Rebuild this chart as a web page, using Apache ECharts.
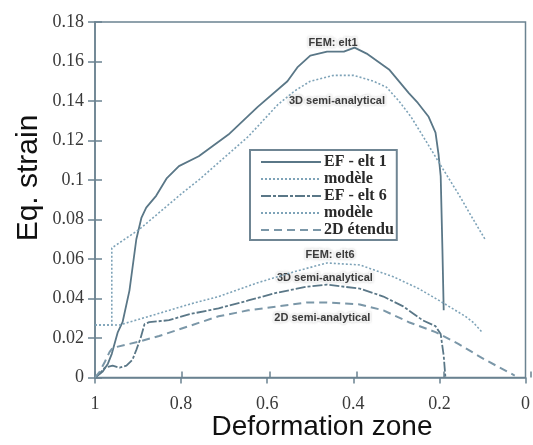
<!DOCTYPE html>
<html>
<head>
<meta charset="utf-8">
<script src="https://cdn.jsdelivr.net/npm/echarts@6/dist/echarts.min.js"></script>
<style>
html,body{margin:0;padding:0;background:#fff;}
#c{width:533px;height:445px;}
</style>
</head>
<body>
<div id="c"></div>
<script>
// ---- data (x = deformation zone, y = eq. strain) ----
const xTickLabels = ['0', '0.2', '0.4', '0.6', '0.8', '1'];
const yTickLabels = ['0', '0.02', '0.04', '0.06', '0.08', '0.1', '0.12', '0.14', '0.16', '0.18'];

const efElt1 = [
  [1.000, 0.000], [0.982, 0.003], [0.970, 0.007], [0.961, 0.012], [0.947, 0.023],
  [0.936, 0.028], [0.920, 0.044], [0.904, 0.070], [0.892, 0.081], [0.881, 0.086],
  [0.858, 0.092], [0.833, 0.101], [0.805, 0.107], [0.759, 0.112], [0.690, 0.123],
  [0.622, 0.137], [0.553, 0.150], [0.530, 0.157], [0.500, 0.163], [0.461, 0.165],
  [0.422, 0.165], [0.397, 0.167], [0.369, 0.164], [0.317, 0.156], [0.271, 0.144],
  [0.250, 0.139], [0.225, 0.132], [0.209, 0.124], [0.202, 0.113], [0.197, 0.102],
  [0.193, 0.065], [0.190, 0.034]
];
const modeleElt1 = [
  [1.000, 0.0266], [0.961, 0.0266], [0.961, 0.0656], [0.897, 0.075], [0.794, 0.094],
  [0.759, 0.100], [0.644, 0.122], [0.576, 0.138], [0.537, 0.145], [0.500, 0.150],
  [0.445, 0.153], [0.399, 0.153], [0.353, 0.150], [0.323, 0.147], [0.294, 0.140],
  [0.266, 0.132], [0.232, 0.120], [0.193, 0.106], [0.156, 0.093], [0.124, 0.081],
  [0.094, 0.070]
];
const efElt6 = [
  [1.000, 0.000], [0.989, 0.002], [0.977, 0.005], [0.959, 0.006], [0.943, 0.005],
  [0.927, 0.006], [0.913, 0.009], [0.904, 0.014], [0.894, 0.020], [0.885, 0.027],
  [0.874, 0.028], [0.828, 0.029], [0.782, 0.032], [0.713, 0.035], [0.644, 0.039],
  [0.576, 0.043], [0.507, 0.046], [0.461, 0.047], [0.385, 0.045], [0.330, 0.041],
  [0.284, 0.036], [0.239, 0.029], [0.209, 0.026], [0.197, 0.022], [0.190, 0.011],
  [0.186, 0.000]
];
const modeleElt6 = [
  [1.000, 0.0266], [0.943, 0.0266], [0.874, 0.031], [0.782, 0.037], [0.713, 0.041],
  [0.622, 0.048], [0.530, 0.054], [0.461, 0.058], [0.385, 0.057], [0.307, 0.051],
  [0.248, 0.045], [0.193, 0.038], [0.140, 0.031], [0.122, 0.028], [0.101, 0.023]
];
const etendu2D = [
  [1.000, 0.000], [0.989, 0.003], [0.977, 0.008], [0.966, 0.013], [0.959, 0.015],
  [0.901, 0.018], [0.851, 0.021], [0.782, 0.026], [0.713, 0.031], [0.644, 0.034],
  [0.576, 0.036], [0.507, 0.038], [0.461, 0.038], [0.385, 0.037], [0.330, 0.034],
  [0.271, 0.028], [0.209, 0.023], [0.156, 0.017], [0.094, 0.009], [0.025, 0.001]
];
const legendNames = ['EF - elt 1', 'modèle', 'EF - elt 6', 'modèle ', '2D étendu'];
const annotations = [
  {text: 'FEM: elt1', x: 0.447, y: 0.1694},
  {text: '3D semi-analytical', x: 0.438, y: 0.140},
  {text: 'FEM: elt6', x: 0.454, y: 0.062},
  {text: '3D semi-analytical', x: 0.466, y: 0.0504},
  {text: '2D semi-analytical', x: 0.472, y: 0.0301}
];

// ---- chart ----
const axisColor = '#6b8391';
const solidColor = '#5a7787';
const dotColor = '#7ea3b8';
const dashColor = '#7b97a8';
const serif = '"Liberation Serif", "DejaVu Serif", serif';
const sans = '"Liberation Sans", Arial, sans-serif';

const chart = echarts.init(document.getElementById('c'), null, {renderer: 'canvas'});

const gridBox = {left: 95, right: 2, top: 22, bottom: 67.5};

function xAxisDef(inside, labels, gi) {
  return {
    gridIndex: gi,
    type: 'value', min: 0, max: 1, interval: 0.2, inverse: true, position: 'bottom',
    axisLine: {show: labels, onZero: false, lineStyle: {color: axisColor, width: 1.5}},
    axisTick: {show: true, inside: inside, length: 6, lineStyle: {color: axisColor, width: 1.5}},
    axisLabel: {
      show: labels, margin: 18, color: '#3a3a3a', fontFamily: serif, fontSize: 18,
      formatter: v => xTickLabels[Math.round(v / 0.2)]
    },
    splitLine: {show: false}
  };
}
function yAxisDef(inside, labels, gi) {
  return {
    gridIndex: gi,
    type: 'value', min: 0, max: 0.18, interval: 0.02, position: 'left',
    axisLine: {show: labels, onZero: false, lineStyle: {color: axisColor, width: 1.5}},
    axisTick: {show: true, inside: inside, length: 7, lineStyle: {color: axisColor, width: 1.5}},
    axisLabel: {
      show: labels, margin: 11, color: '#3a3a3a', fontFamily: serif, fontSize: 18,
      formatter: v => yTickLabels[Math.round(v / 0.02)]
    },
    splitLine: {show: false}
  };
}

function lineSeries(name, data, color, type, width) {
  return {
    name: name, type: 'line', data: data, xAxisIndex: 0, yAxisIndex: 0,
    symbol: 'none', showSymbol: false, smooth: false, animation: false,
    lineStyle: {color: color, type: type, width: width},
    itemStyle: {color: color}
  };
}

const option = {
  backgroundColor: '#ffffff',
  animation: false,
  grid: [
    Object.assign({show: true, borderColor: axisColor, borderWidth: 1.5, backgroundColor: 'transparent'}, gridBox),
    Object.assign({show: false}, gridBox)
  ],
  xAxis: [xAxisDef(false, true, 0), xAxisDef(true, false, 1)],
  yAxis: [yAxisDef(false, true, 0), yAxisDef(true, false, 1)],
  legend: {
    data: legendNames,
    orient: 'vertical',
    left: 250, top: 150,
    padding: [4, 3, 2, 10],
    itemWidth: 60, itemHeight: 14, itemGap: 1,
    borderColor: '#6f8593', borderWidth: 2, backgroundColor: '#fff',
    selectedMode: false,
    itemStyle: {color: 'rgba(0,0,0,0)', borderWidth: 0, opacity: 0},
    textStyle: {fontFamily: serif, fontSize: 16, fontWeight: 'bold', color: '#2a2a2a', padding: [0, 0, 0, -2]}
  },
  graphic: [
    {type: 'text', x: 29, y: 178, rotation: Math.PI / 2,
     style: {text: 'Eq. strain', font: '30px ' + sans, fill: '#111', textAlign: 'center', textVerticalAlign: 'middle'}},
    {type: 'text', x: 322, y: 427,
     style: {text: 'Deformation zone', font: '28px ' + sans, fill: '#111', textAlign: 'center', textVerticalAlign: 'middle'}}
  ],
  series: [
    lineSeries(legendNames[0], efElt1, solidColor, 'solid', 1.8),
    lineSeries(legendNames[1], modeleElt1, dotColor, [2, 2], 1.6),
    lineSeries(legendNames[2], efElt6, solidColor, [10, 2, 3, 2], 1.8),
    lineSeries(legendNames[3], modeleElt6, dotColor, [2, 2], 1.6),
    lineSeries(legendNames[4], etendu2D, dashColor, [8, 5], 2),
    {
      type: 'scatter', xAxisIndex: 0, yAxisIndex: 0, symbolSize: 0, silent: true, animation: false,
      data: annotations.map(a => ({value: [a.x, a.y], name: a.text})),
      label: {
        show: true, position: 'inside', formatter: p => p.name,
        fontFamily: sans, fontSize: 11, fontWeight: 'bold', color: '#111',
        textBorderColor: '#ffffff', textBorderWidth: 3,
        textShadowColor: 'rgba(150,150,150,0.5)', textShadowBlur: 2
      }
    }
  ]
};
chart.setOption(option);
</script>
</body>
</html>
